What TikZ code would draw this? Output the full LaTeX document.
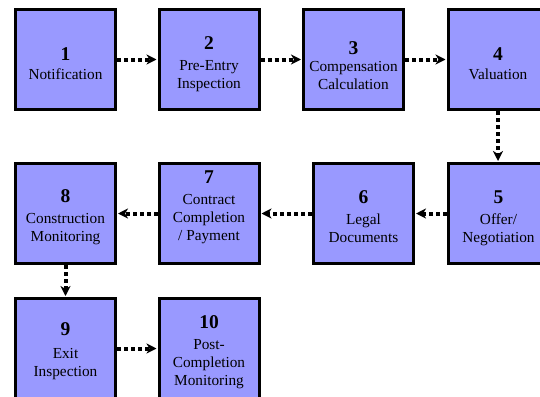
\documentclass[tikz,border=0pt]{standalone}
\usepackage{fontspec}
\setmainfont{Liberation Serif}
\usetikzlibrary{arrows.meta}
\definecolor{boxfill}{HTML}{9999FF}
\tikzset{
  stepbox/.style={draw=black, line width=3pt, fill=boxfill, minimum width=100pt, minimum height=100pt, inner sep=0pt},
  numtext/.style={anchor=base, inner sep=0pt, font=\fontsize{19.5}{19.5}\selectfont\bfseries},
  steptext/.style={anchor=base, inner sep=0pt, align=center, font=\fontsize{15.3}{18}\selectfont},
  conn/.style={line width=4pt, dash pattern=on 4pt off 3pt, -{Stealth[length=10pt,width=10pt,inset=3pt]}, shorten >=1pt}
}
% #1 id, #2 x, #3 y, #4 number, #5 number baseline, #6 text, #7 baseline of last text line
\newcommand{\stepnode}[7]{%
  \node[stepbox] (b#1) at (#2,#3) {};
  \node[numtext] (n#1) at (#2,#5) {#4};
  \node[steptext] (t#1) at (#2,#7) {#6};
}
\begin{document}
\begin{tikzpicture}[x=1pt,y=-1pt]
\useasboundingbox (0,0) rectangle (540,396);
\stepnode{1}{65.5}{59.5}{1}{60}{Notification}{79}
\stepnode{2}{209}{59.5}{2}{49.3}{Pre-Entry\\Inspection}{88.3}
\stepnode{3}{353.5}{59.5}{3}{54.3}{Compensation\\Calculation}{89.3}
\stepnode{4}{498}{59.5}{4}{60}{Valuation}{79}
\stepnode{5}{498.5}{213.5}{5}{203.3}{Offer/\\Negotiation}{242.3}
\stepnode{6}{363.5}{213.5}{6}{203.3}{Legal\\Documents}{242.3}
\stepnode{7}{209}{213.5}{7}{183.3}{Contract\\Completion\\/ Payment}{240}
\stepnode{8}{65.5}{213.5}{8}{202.7}{Construction\\Monitoring}{241.7}
\stepnode{9}{65.5}{348.5}{9}{335.5}{Exit\\Inspection}{376}
\stepnode{10}{209}{348.5}{10}{328.3}{Post-\\Completion\\Monitoring}{385}
\draw[conn] (b1) -- (b2);
\draw[conn] (b2) -- (b3);
\draw[conn] (b3) -- (b4);
\draw[conn] (b4.south) -- (b4.south |- b5.north);
\draw[conn] (b5) -- (b6);
\draw[conn] (b6) -- (b7);
\draw[conn] (b7) -- (b8);
\draw[conn] (b8) -- (b9);
\draw[conn] (b9) -- (b10);
\end{tikzpicture}
\end{document}
